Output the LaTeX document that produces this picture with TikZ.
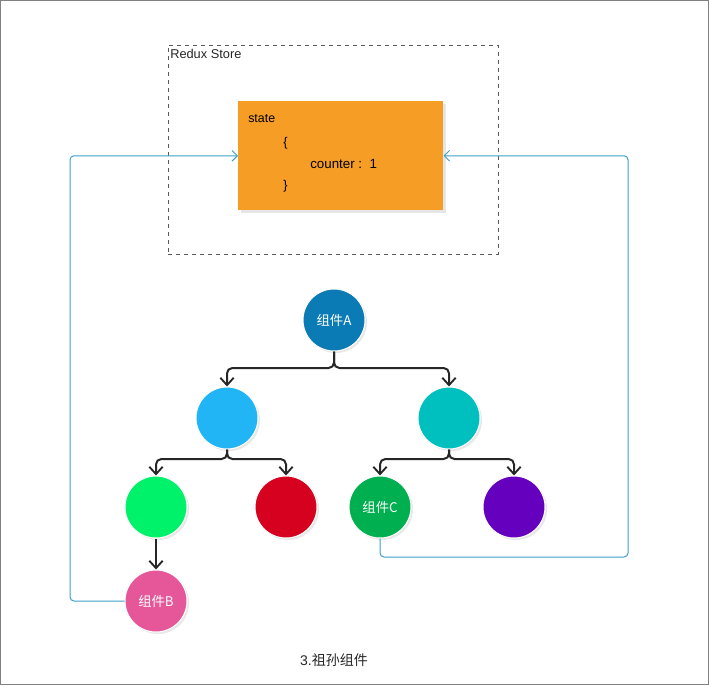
\documentclass[tikz,border=0pt]{standalone}
\usepackage{fontspec}
\setmainfont{Liberation Sans}
\newfontfamily\cjk{Noto Sans CJK SC}
\usetikzlibrary{arrows.meta,shadows,calc}
\definecolor{cA}{HTML}{0B7BB5}
\definecolor{cL}{HTML}{22B5F5}
\definecolor{cT}{HTML}{00BFBF}
\definecolor{cG}{HTML}{00F26A}
\definecolor{cR}{HTML}{D6001F}
\definecolor{cC}{HTML}{00B050}
\definecolor{cP}{HTML}{6600BF}
\definecolor{cB}{HTML}{E6579A}
\definecolor{cO}{HTML}{F59D24}
\definecolor{cLink}{HTML}{3BA0C8}
\tikzset{
  comp/.style={circle, draw=white, line width=0.75pt, minimum size=46.5pt, inner sep=0pt,
    text=white, font=\fontsize{10}{12}\selectfont,
    drop shadow={opacity=0.18, shadow xshift=1.5pt, shadow yshift=-1.5pt}},
  tree/.style={draw=black!85, line width=1.5pt, rounded corners=4pt,
    -{Straight Barb[length=5.5pt,width=10pt,line width=1.4pt]}},
  link/.style={draw=cLink, line width=0.75pt, rounded corners=3pt,
    -{Straight Barb[length=4pt,width=8pt,line width=0.75pt]}},
  txt/.style={inner sep=0pt, anchor=west, text=black, font=\fontsize{9.3}{11}\selectfont}
}
\begin{document}
\begin{tikzpicture}[x=0.75pt,y=-0.75pt]
\useasboundingbox (0,0) rectangle (709,685);
\draw[draw=black!50, line width=0.75pt] (0.5,0.5) rectangle (708.5,684.5);
% store
\node[draw=black!65, dashed, line width=0.6pt, minimum width=247.5pt, minimum height=156.75pt, inner sep=0pt, anchor=north west] (store) at (168,45) {};
\node[txt, anchor=west, text=black!85, font=\fontsize{9.6}{11}\selectfont] (storelbl) at (170,54) {Redux Store};
\node[fill=cO, minimum width=153.75pt, minimum height=81.75pt, inner sep=0pt, anchor=north west,
  drop shadow={opacity=0.2, shadow xshift=2pt, shadow yshift=-2pt}] (state) at (238,101) {};
\node[txt] (stt) at (248,118.5) {state};
\node[txt, font=\fontsize{9.5}{11}\selectfont] (ob) at (283,143) {\{};
\node[txt, font=\fontsize{10}{12}\selectfont] (cnt) at (310,164) {counter\ :\ \ 1};
\node[txt, font=\fontsize{9.5}{11}\selectfont] (cb) at (283,186) {\}};
% components
\node[comp, fill=cA] (A) at (334,320) {\cjk 组件A};
\node[comp, fill=cL] (L) at (227,418) {};
\node[comp, fill=cT] (T) at (449,418) {};
\node[comp, fill=cG] (G) at (156,507) {};
\node[comp, fill=cR] (R) at (286,507) {};
\node[comp, fill=cC] (C) at (380,507) {\cjk 组件C};
\node[comp, fill=cP] (P) at (514,507) {};
\node[comp, fill=cB] (B) at (156,601) {\cjk 组件B};
% tree edges
\coordinate (fA) at (334,368);
\coordinate (fL) at (227,459);
\coordinate (fT) at (449,459);
\draw[tree] (A.south) -- (fA) -| (L.north);
\draw[tree] (A.south) -- (fA) -| (T.north);
\draw[tree] (L.south) -- (fL) -| (G.north);
\draw[tree] (L.south) -- (fL) -| (R.north);
\draw[tree] (T.south) -- (fT) -| (C.north);
\draw[tree] (T.south) -- (fT) -| (P.north);
\draw[tree] (G.south) -- (B.north);
% links to store
\coordinate (bl) at (70,601);
\coordinate (cbot) at (380,557);
\coordinate (cr) at (628,557);
\draw[link] (B.west) -- (bl) |- (state.west);
\draw[link] (C.south) -- (cbot) -- (cr) |- (state.east);
% caption
\node[inner sep=0pt, text=black!85, font=\fontsize{10.5}{12}\selectfont] (cap) at (334,660) {3.{\cjk 祖孙组件}};
\end{tikzpicture}
\end{document}
